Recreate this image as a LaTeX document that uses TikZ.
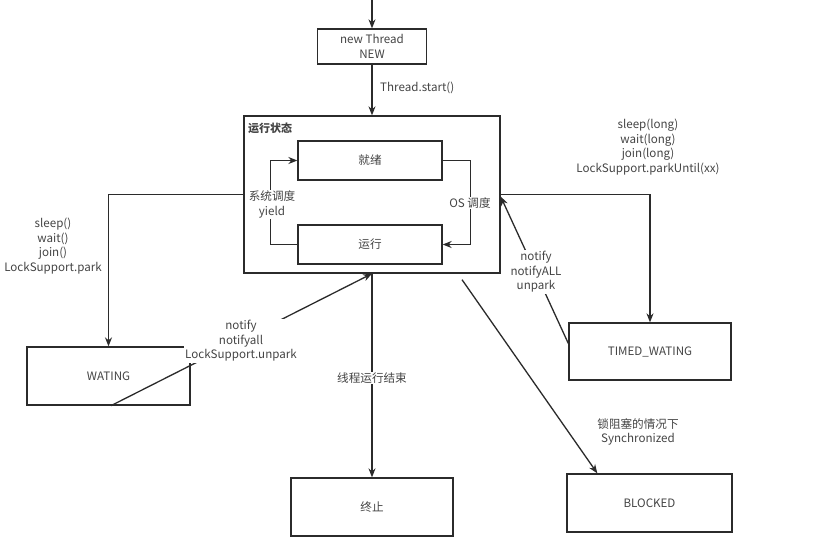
\documentclass[tikz,border=0pt]{standalone}
\usepackage{fontspec}
\setmainfont{Noto Sans CJK SC}
\usepackage{xcolor}
\usetikzlibrary{arrows.meta,positioning}
\definecolor{linec}{HTML}{2B2B2B}
\definecolor{txtc}{HTML}{444444}
\tikzset{
  ar/.style={-{Stealth[length=9pt,width=7pt]},line width=1.3pt,linec},
  box/.style={draw=linec,line width=1.3pt,fill=white,align=center,inner sep=2pt,text=txtc},
  lbl/.style={align=center,text=txtc,inner sep=1pt,font=\fontsize{11.6}{14.6}\selectfont},
  wlbl/.style={lbl,fill=white}
}
\begin{document}
\begin{tikzpicture}[x=1pt,y=-1pt,font=\fontsize{11.6}{14.6}\selectfont]
\useasboundingbox[fill=white] (0,0) rectangle (819,542);
% states
\coordinate (top) at (372,0);
\node[box,minimum width=109pt,minimum height=35pt] (new) at (372,46.5) {new Thread\\NEW};
\node[box,minimum width=256pt,minimum height=157pt] (run) at (372,194.5) {};
\node[box,minimum width=144pt,minimum height=39pt] (ready) at (370,160.5) {就绪};
\node[box,minimum width=144pt,minimum height=39pt] (running) at (370,244.5) {运行};
\node[box,minimum width=163pt,minimum height=58pt] (wait) at (108.5,376) {WATING};
\node[box,minimum width=162pt,minimum height=57pt] (timed) at (650,351.5) {TIMED\_WATING};
\node[box,minimum width=162pt,minimum height=58pt] (end) at (372,507) {终止};
\node[box,minimum width=165pt,minimum height=58pt] (blocked) at (649.5,503) {BLOCKED};
\node[lbl,anchor=north west,font=\fontsize{11}{14.6}\selectfont\bfseries] (runtitle) at (247,122) {运行状态};
% transitions
\draw[ar] (top) -- (new);
\draw[ar] (new) -- (run.north);
\draw[ar] (running.west) -- ++(-27,0) |- (ready.west);
\draw[ar] (ready.east) -- ++(28,0) |- (running.east);
\draw[ar] (run.west) -| (wait.north);
\draw[ar] (run.east) -| (timed.north);
\draw[ar] ([xshift=2.5pt]wait.south) -- (run.south);
\draw[ar] ([yshift=8pt]timed.west) -- ([yshift=-2pt]run.east);
\draw[ar] (run.south) -- (end.north);
\draw[ar] ([xshift=90pt,yshift=-6pt]run.south) -- ([xshift=31pt]blocked.north west);
% labels
\node[lbl,anchor=west] (startlbl) at (379,88) {Thread.start()};
\node[wlbl] (yieldlbl) at (272,204.5) {系统调度\\yield};
\node[wlbl] (oslbl) at (470,203) {OS 调度};
\node[lbl] (waitlbl) at (53,246) {sleep()\\wait()\\join()\\LockSupport.park};
\node[wlbl] (unparklbl) at (241,341) {notify\\notifyall\\LockSupport.unpark};
\node[lbl] (timedlbl) at (648,147) {sleep(long)\\wait(long)\\join(long)\\LockSupport.parkUntil(xx)};
\node[wlbl] (notifylbl) at (536,272) {notify\\notifyALL\\unpark};
\node[wlbl] (endlbl) at (372,378) {线程运行结束};
\node[lbl] (blocklbl) at (638,432) {锁阻塞的情况下\\Synchronized};
\end{tikzpicture}
\end{document}
